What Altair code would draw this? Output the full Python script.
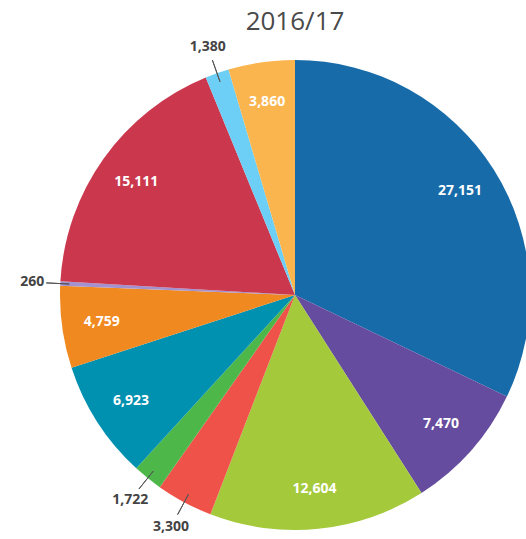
import altair as alt
import pandas as pd

values = [27151, 7470, 12604, 3300, 1722, 6923, 4759, 260, 15111, 1380, 3860]
labels = ["27,151", "7,470", "12,604", "3,300", "1,722", "6,923", "4,759", "260", "15,111", "1,380", "3,860"]
colors = ["#176BA9", "#664C9E", "#A4C93B", "#EF5249", "#4DB849", "#0090B0",
          "#F0891F", "#A392CF", "#CB384E", "#6DCFF6", "#FBB54F"]
categories = [f"Segment {i + 1}" for i in range(len(values))]
title = "2016/17"

df = pd.DataFrame({"cat": categories, "value": values, "label": labels,
                   "idx": list(range(len(values)))})

CX, CY, R = 295, 295, 235
FONT = "Open Sans"

base = alt.Chart(df).transform_joinaggregate(
    total="sum(value)"
).transform_window(
    cum="sum(value)", sort=[alt.SortField("idx")], frame=[None, 0]
).transform_calculate(
    start="(datum.cum - datum.value) / datum.total * 2 * PI",
    end="datum.cum / datum.total * 2 * PI",
    mid="(datum.cum - datum.value / 2) / datum.total * 2 * PI",
)

arcs = base.mark_arc(outerRadius=R).encode(
    x=alt.value(CX), y=alt.value(CY),
    theta=alt.Theta("start:Q", scale=None),
    theta2=alt.Theta2("end:Q"),
    color=alt.Color("cat:N", scale=alt.Scale(domain=categories, range=colors), legend=None),
)

inside = base.transform_filter("datum.value >= 3500").mark_text(
    radius=195, fontSize=14, fontWeight="bold", color="white", font=FONT
).encode(
    x=alt.value(CX), y=alt.value(CY),
    theta=alt.Theta("mid:Q", scale=None),
    text="label:N",
)

leaders = base.transform_filter("datum.value < 3500").mark_arc(
    innerRadius=226, outerRadius=249, stroke="#555555", strokeWidth=1, fillOpacity=0
).encode(
    x=alt.value(CX), y=alt.value(CY),
    theta=alt.Theta("mid:Q", scale=None),
    theta2=alt.Theta2("mid:Q"),
)

outside = base.transform_filter("datum.value < 3500").mark_text(
    radius=263, fontSize=14, fontWeight="bold", color="#444444", font=FONT
).encode(
    x=alt.value(CX), y=alt.value(CY),
    theta=alt.Theta("mid:Q", scale=None),
    text="label:N",
)

title_layer = alt.Chart(pd.DataFrame({"t": [title]})).mark_text(
    fontSize=26, color="#4a4a4a", font=FONT
).encode(x=alt.value(295), y=alt.value(22), text="t:N")

chart = alt.layer(arcs, leaders, inside, outside, title_layer).properties(
    width=526, height=539,
    autosize=alt.AutoSizeParams(type="none"),
    padding=0,
).configure_view(stroke=None)

chart.save("out.html", embed_options={"renderer": "svg", "actions": False})
